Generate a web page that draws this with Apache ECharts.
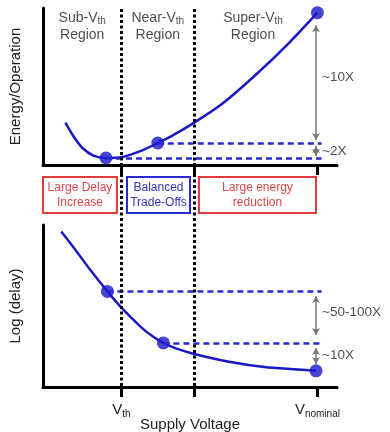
<!DOCTYPE html>
<html><head><meta charset="utf-8">
<script src="https://cdn.jsdelivr.net/npm/echarts@6/dist/echarts.min.js"></script>
<style>html,body{margin:0;padding:0;background:#fff}#c{width:390px;height:432px}</style>
</head><body><div id="c"></div>
<script>
// ---- data ----
const voltageEnergy = [0.08, 0.11, 0.14, 0.18, 0.225, 0.28, 0.35, 0.41, 0.46, 0.54, 0.64, 0.76, 0.88, 0.98];
const energy        = [27, 18, 11, 6, 4.5, 5, 9, 14, 18.5, 27, 39, 57.5, 78, 97];
const energyDotV = [0.225, 0.41, 0.98];
const energyDotE = [4.5, 14, 97];

const voltageDelay = [0.065, 0.11, 0.17, 0.23, 0.28, 0.35, 0.39, 0.43, 0.475, 0.54, 0.67, 0.79, 0.91, 0.975];
const delay        = [96, 86, 72, 59, 49, 37, 31.5, 27.2, 23.8, 20.4, 15.4, 12.3, 10.8, 10];
const delayDotV = [0.23, 0.43, 0.975];
const delayDotD = [59, 27.2, 10];

const regionBounds = [0.28, 0.54];
const xTicks = [0.28, 0.54, 0.98];
const xTickLabels = ['V{s|th}', '', 'V{s|nominal}'];

const regionX = [0.14, 0.41, 0.75];
const regionY = 88;
const regionNames = [['Sub-V', 'th'], ['Near-V', 'th'], ['Super-V', 'th']];

const boxStart = [0, 0.30, 0.557];
const boxEnd   = [0.264, 0.525, 0.975];
const boxTexts = ['Large Delay\nIncrease', 'Balanced\nTrade-Offs', 'Large energy\nreduction'];
const boxColors = ['red', 'blue', 'red'];

const dashEndV = 0.995;
const arrowV = 0.975;
const energyArrows = [[89, 16], [12.1, 5.7]];
const energyNotes = ['~10X', '~2X'];
const energyNoteY = [56, 8.9];
const delayArrows = [[56.2, 32.1], [24.1, 14.2]];
const delayNotes = ['~50-100X', '~10X'];
const delayNoteY = [46.3, 19.8];

// ---- styles ----
const BLUE = '#1818c8';
const DASH_BLUE = '#2828d4';
const RED = '#e03a3a';
const FONT = "'Liberation Sans', Arial, sans-serif";
const TXT = '#222';
const X_MAX = 1.05;

const zip = (a, b) => a.map((v, i) => [v, b[i]]);

function xAxisFor(gi, withLabels, showLine) {
  return {
    type: 'value', gridIndex: gi, min: 0, max: X_MAX,
    show: showLine !== false,
    axisLine: {show: showLine !== false, onZero: false, lineStyle: {color: '#000', width: 3}},
    axisTick: {show: showLine !== false, customValues: xTicks, length: 10, lineStyle: {color: '#000', width: 3}},
    axisLabel: withLabels ? {
      show: true, customValues: xTicks, margin: 14,
      formatter: (v) => { const i = xTicks.indexOf(v); return i >= 0 ? xTickLabels[i] : ''; },
      fontFamily: FONT, fontSize: 15, color: TXT,
      rich: {s: {fontFamily: FONT, fontSize: 10, color: TXT, padding: [8, 0, 0, 0]}}
    } : {show: false},
    splitLine: {show: false},
    name: withLabels ? 'Supply Voltage' : '',
    nameLocation: 'middle', nameGap: 30, nameMoveOverlap: false,
    nameTextStyle: {fontFamily: FONT, fontSize: 15, color: TXT}
  };
}
function yAxisFor(gi, name, show) {
  return {
    type: 'value', gridIndex: gi, min: 0, max: show ? 100 : 1,
    show: show,
    axisLine: {show: show, onZero: false, lineStyle: {color: '#000', width: 3}},
    axisTick: {show: false}, axisLabel: {show: false}, splitLine: {show: false},
    name: name, nameLocation: 'middle', nameGap: 20, nameMoveOverlap: false,
    nameTextStyle: {fontFamily: FONT, fontSize: 15, color: TXT}
  };
}

const series = [];
// energy curve
series.push({
  type: 'line', xAxisIndex: 0, yAxisIndex: 0, data: zip(voltageEnergy, energy),
  smooth: 0.3, showSymbol: false, lineStyle: {color: BLUE, width: 2.5}, z: 3,
  markLine: {
    silent: true, symbol: 'none', label: {show: false},
    lineStyle: {color: DASH_BLUE, width: 2.5, type: [6, 4]},
    data: energyDotV.slice(0, 2).map((v, i) => [{coord: [v, energyDotE[i]]}, {coord: [dashEndV, energyDotE[i]]}])
  }
});
series.push({
  type: 'scatter', xAxisIndex: 0, yAxisIndex: 0, data: zip(energyDotV, energyDotE),
  symbolSize: 13, itemStyle: {color: BLUE}, z: 4
});
// delay curve
series.push({
  type: 'line', xAxisIndex: 2, yAxisIndex: 2, data: zip(voltageDelay, delay),
  smooth: 0.3, showSymbol: false, lineStyle: {color: BLUE, width: 2.5}, z: 3,
  markLine: {
    silent: true, symbol: 'none', label: {show: false},
    lineStyle: {color: DASH_BLUE, width: 2.5, type: [6, 4]},
    data: delayDotV.slice(0, 2).map((v, i) => [{coord: [v, delayDotD[i]]}, {coord: [dashEndV, delayDotD[i]]}])
  }
});
series.push({
  type: 'scatter', xAxisIndex: 2, yAxisIndex: 2, data: zip(delayDotV, delayDotD),
  symbolSize: 13, itemStyle: {color: BLUE}, z: 4
});
// region labels
series.push({
  type: 'scatter', xAxisIndex: 0, yAxisIndex: 0, symbolSize: 0, silent: true,
  data: regionX.map((x, i) => ({value: [x, regionY], name: regionNames[i][0] + '|' + regionNames[i][1]})),
  label: {
    show: true, position: 'inside', align: 'center',
    formatter: (p) => { const [a, b] = p.name.split('|'); return '{a|' + a + '}{s|' + b + '}\n{a|Region}'; },
    rich: {
      a: {fontFamily: FONT, fontSize: 14, color: TXT, lineHeight: 17},
      s: {fontFamily: FONT, fontSize: 10, color: TXT, padding: [6, 0, 0, 0], lineHeight: 17}
    }
  }
});
// annotation text
function notes(ax, ys, texts) {
  return {
    type: 'scatter', xAxisIndex: ax, yAxisIndex: ax, symbolSize: 0, silent: true,
    data: ys.map((y, i) => ({value: [arrowV, y], name: texts[i]})),
    label: {show: true, position: 'right', distance: 6, formatter: '{b}', fontFamily: FONT, fontSize: 13.5, color: TXT}
  };
}
series.push(notes(0, energyNoteY, energyNotes));
series.push(notes(2, delayNoteY, delayNotes));
// gray arrows
function arrows(ax, pairs) {
  return {
    type: 'line', xAxisIndex: ax, yAxisIndex: ax, data: [], silent: true,
    markLine: {
      symbol: ['arrow', 'arrow'], symbolSize: [6, 7], label: {show: false},
      lineStyle: {color: '#777', width: 1.5, type: 'solid'},
      data: pairs.map(p => [{coord: [arrowV, p[0]]}, {coord: [arrowV, p[1]]}])
    }
  };
}
series.push(arrows(0, energyArrows));
series.push(arrows(2, delayArrows));
// boxes
series.push({
  type: 'line', xAxisIndex: 1, yAxisIndex: 1, data: [], silent: true,
  markArea: {
    data: boxStart.map((s, i) => [
      {name: boxTexts[i], coord: [s, 0],
       itemStyle: {color: 'rgba(0,0,0,0)', borderColor: boxColors[i] === 'red' ? RED : '#2a2ad0', borderWidth: 2},
       label: {show: true, position: 'inside', fontFamily: FONT, fontSize: 12, lineHeight: 15,
               color: boxColors[i] === 'red' ? '#d84848' : '#3333b8'}},
      {coord: [boxEnd[i], 1]}
    ])
  }
});
// dotted region boundaries
series.push({
  type: 'line', xAxisIndex: 3, yAxisIndex: 3, data: [], silent: true, z: 10,
  markLine: {
    symbol: 'none', label: {show: false},
    lineStyle: {color: '#000', width: 3, type: [3, 2.5]},
    data: regionBounds.map(v => ({xAxis: v}))
  }
});

const chart = echarts.init(document.getElementById('c'), null, {renderer: 'canvas'});
chart.setOption({
  animation: false,
  backgroundColor: '#fff',
  textStyle: {fontFamily: FONT},
  grid: [
    {left: 43, width: 294, top: 8, height: 157, outerBoundsMode: 'none', containLabel: false},
    {left: 43, width: 294, top: 177, height: 36, outerBoundsMode: 'none', containLabel: false},
    {left: 43, width: 294, top: 225, height: 162, outerBoundsMode: 'none', containLabel: false},
    {left: 43, width: 294, top: 8, height: 389, outerBoundsMode: 'none', containLabel: false}
  ],
  xAxis: [xAxisFor(0, false), xAxisFor(1, false, false), xAxisFor(2, true), xAxisFor(3, false, false)],
  yAxis: [yAxisFor(0, 'Energy/Operation', true), yAxisFor(1, '', false), yAxisFor(2, 'Log (delay)', true), yAxisFor(3, '', false)],
  series: series
});
</script></body></html>
